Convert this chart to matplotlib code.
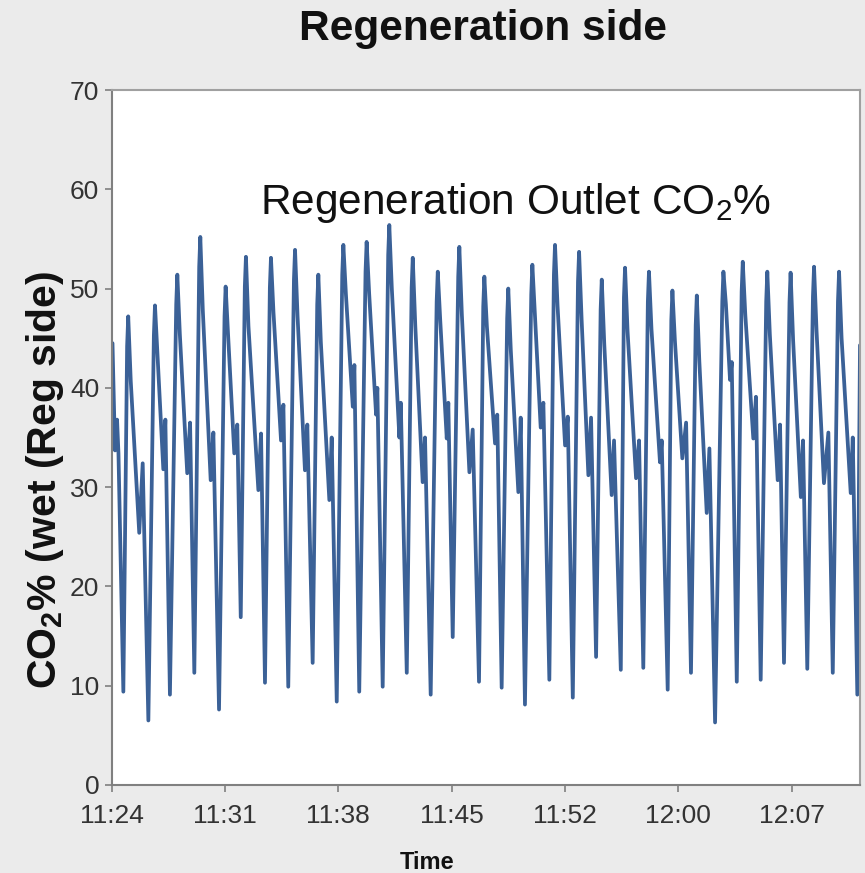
import matplotlib
matplotlib.use("Agg")
import matplotlib.pyplot as plt

plt.rcParams['font.family'] = ['Liberation Sans', 'DejaVu Sans']
plt.rcParams['mathtext.fontset'] = 'custom'
plt.rcParams['mathtext.rm'] = 'Liberation Sans'
plt.rcParams['mathtext.bf'] = 'Liberation Sans:bold'

# minutes after 11:24
minutes = [0.05, 0.21, 0.34, 0.43, 0.74,
           0.98, 1.05, 1.21, 1.75, 1.97, 2.33,
           2.68, 2.75, 2.91, 3.28, 3.41, 3.70,
           4.10, 4.17, 4.33, 4.80, 4.98, 5.25,
           5.56, 5.63, 5.79, 6.29, 6.46, 6.82,
           7.17, 7.24, 7.40, 7.79, 7.98, 8.20,
           8.46, 8.53, 8.69, 9.32, 9.49, 9.74,
           10.05, 10.12, 10.28, 10.76, 10.91, 11.22,
           11.58, 11.65, 11.81, 12.28, 12.43, 12.77,
           13.06, 13.13, 13.29, 13.83, 13.98, 14.30,
           14.65, 14.72, 14.88, 15.32, 15.42, 15.73,
           16.13, 16.20, 16.36, 16.80, 16.88, 17.22,
           17.57, 17.64, 17.80, 18.28, 18.37, 18.75,
           19.06, 19.13, 19.29, 19.76, 19.91, 20.27,
           20.65, 20.72, 20.88, 21.29, 21.39, 21.67,
           22.02, 22.09, 22.25, 22.73, 22.94, 23.34,
           23.61, 23.68, 23.84, 24.36, 24.50, 24.78,
           25.13, 25.20, 25.36, 25.84, 25.99, 26.26,
           26.66, 26.73, 26.89, 27.26, 27.43, 27.81,
           28.10, 28.17, 28.33, 28.81, 28.98, 29.30,
           29.63, 29.70, 29.86, 30.29, 30.46, 30.78,
           31.07, 31.14, 31.30, 31.77, 31.92, 32.35,
           32.55, 32.62, 32.78, 33.32, 33.51, 33.78,
           34.07, 34.14, 34.30, 34.84, 34.95, 35.33,
           35.56, 35.63, 35.79, 36.26, 36.50, 36.81,
           37.11, 37.18, 37.34, 37.81, 37.98, 38.34,
           38.80, 38.87, 39.03, 39.29, 39.40, 39.72,
           40.03, 40.10, 40.26, 40.77, 40.94, 41.24,
           41.59, 41.66, 41.82, 42.32, 42.47, 42.72,
           43.07, 43.14, 43.30, 43.79, 43.93, 44.20,
           44.56, 44.63, 44.79, 45.26, 45.54, 45.82,
           46.15, 46.22, 46.38, 46.96, 47.09, 47.38,
           47.55]

# regeneration outlet CO2 %, wet basis
co2 = [44.5, 33.7, 36.8, 33.4, 9.4,
       44.2, 47.2, 40.7, 25.4, 32.4, 6.5,
       45.3, 48.3, 43.3, 31.8, 36.8, 9.1,
       48.4, 51.4, 45.4, 31.4, 36.5, 11.3,
       52.2, 55.2, 47.8, 30.7, 35.5, 7.6,
       47.2, 50.2, 45.2, 33.4, 36.3, 16.9,
       50.2, 53.2, 46.2, 29.7, 35.4, 10.3,
       50.1, 53.1, 47.6, 34.7, 38.3, 9.9,
       50.9, 53.9, 47.2, 31.7, 36.3, 12.3,
       48.4, 51.4, 44.6, 28.7, 35.0, 8.4,
       51.4, 54.4, 49.5, 38.1, 42.3, 9.4,
       51.7, 54.7, 49.5, 37.3, 40.0, 9.9,
       53.4, 56.4, 50.0, 35.0, 38.5, 11.3,
       50.1, 53.1, 46.3, 30.5, 35.0, 9.1,
       48.7, 51.7, 46.7, 34.9, 38.5, 14.9,
       51.2, 54.2, 47.4, 31.5, 35.8, 10.4,
       48.2, 51.2, 46.2, 34.4, 37.3, 9.8,
       47.0, 50.0, 43.8, 29.5, 37.0, 8.1,
       49.4, 52.4, 47.5, 36.0, 38.5, 10.6,
       51.4, 54.4, 48.3, 34.2, 37.1, 8.8,
       50.7, 53.7, 46.9, 31.2, 37.0, 12.9,
       47.9, 50.9, 44.4, 29.2, 34.7, 11.6,
       49.1, 52.1, 45.7, 30.9, 34.7, 11.8,
       48.7, 51.7, 45.9, 32.5, 34.7, 9.6,
       46.8, 49.8, 44.7, 32.9, 36.5, 11.3,
       46.3, 49.3, 42.7, 27.4, 33.9, 6.3,
       48.7, 51.7, 48.4, 40.8, 42.6, 10.4,
       49.7, 52.7, 47.4, 34.9, 39.1, 10.6,
       48.7, 51.7, 45.4, 30.7, 36.3, 12.3,
       48.6, 51.6, 44.8, 29.0, 34.7, 11.7,
       49.2, 52.2, 45.7, 30.4, 35.5, 11.3,
       48.7, 51.7, 45.0, 29.4, 35.0, 9.1,
       44.3]

tick_minutes = [0, 7.2, 14.4, 21.6, 28.8, 36.0, 43.2]
tick_labels = ['11:24', '11:31', '11:38', '11:45', '11:52', '12:00', '12:07']

fig = plt.figure(figsize=(8.65, 8.73), dpi=100, facecolor='#ebebeb')
ax = fig.add_axes([111.7 / 865, 88 / 873, 748.3 / 865, 695 / 873])
ax.set_facecolor('white')

ax.plot(minutes, co2, color='#3b6197', lw=2.7,
        solid_joinstyle='round', solid_capstyle='round')

ax.set_xlim(0, 47.55)
ax.set_ylim(0, 70)
ax.set_yticks(range(0, 71, 10))
ax.set_xticks(tick_minutes)
ax.set_xticklabels(tick_labels)

for side in ['left', 'bottom']:
    ax.spines[side].set_color('#808080')
    ax.spines[side].set_linewidth(1.5)
for side in ['top', 'right']:
    ax.spines[side].set_color('#a0a0a0')
    ax.spines[side].set_linewidth(1.5)

ax.tick_params(axis='both', direction='out', length=5, width=1.2,
               color='#808080', labelsize=19, labelcolor='#333333')
ax.tick_params(axis='x', pad=9)
ax.tick_params(axis='y', pad=4)

ax.text(0.540, 0.8216, r'Regeneration Outlet CO$_\mathrm{2}$%',
        transform=ax.transAxes, ha='center', va='baseline',
        fontsize=30.5, color='#111111')

fig.text(483 / 865, 1 - 40 / 873, 'Regeneration side', ha='center',
         va='baseline', fontsize=30.5, fontweight='bold', color='#111111')
fig.text(45 / 865, 1 - 480 / 873, r'CO$_\mathbf{2}$% (wet (Reg side)',
         rotation=90, ha='center', va='center', fontsize=29.5,
         fontweight='bold', color='#111111')
fig.text(427 / 865, 1 - 869 / 873, 'Time', ha='center', va='baseline',
         fontsize=17, fontweight='bold', color='#111111')

fig.savefig('out.png', dpi=100, facecolor=fig.get_facecolor())
